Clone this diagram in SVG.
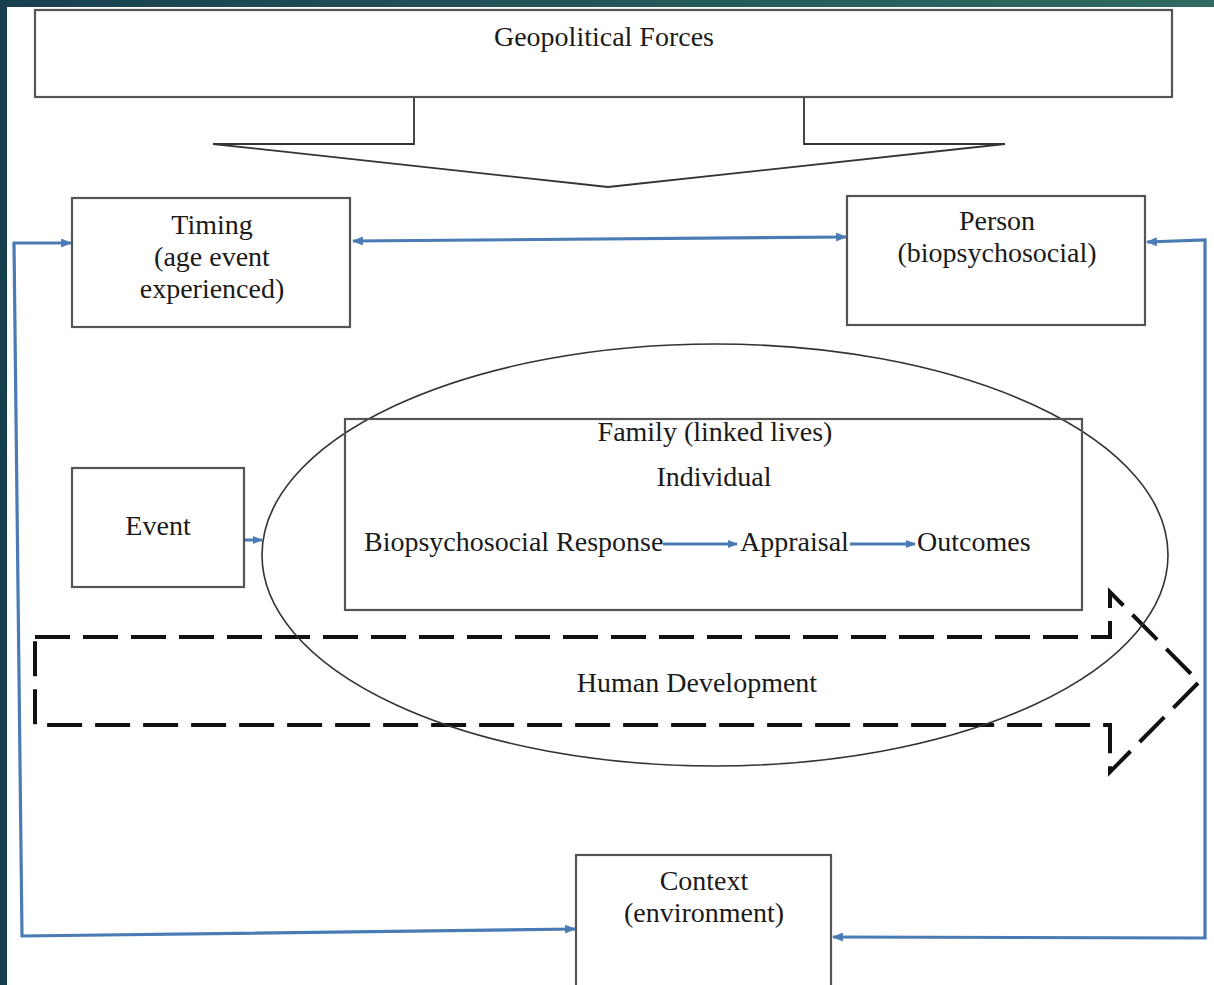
<svg xmlns="http://www.w3.org/2000/svg" width="1214" height="985" viewBox="0 0 1214 985">
  <defs>
    <linearGradient id="band" x1="0" y1="0" x2="1" y2="0">
      <stop offset="0" stop-color="#17404f"/>
      <stop offset="1" stop-color="#2f6c62"/>
    </linearGradient>
    <marker id="head" viewBox="0 0 12 10" refX="11" refY="5" markerWidth="12" markerHeight="9" markerUnits="userSpaceOnUse" orient="auto-start-reverse">
      <path d="M0,0 L12,5 L0,10 z" fill="#4a7bb5"/>
    </marker>
    <marker id="headSmall" viewBox="0 0 10 8" refX="9" refY="4" markerWidth="10" markerHeight="8" markerUnits="userSpaceOnUse" orient="auto">
      <path d="M0,0 L10,4 L0,8 z" fill="#4a7bb5"/>
    </marker>
    <style>
      .box { fill: #ffffff; stroke: #555555; stroke-width: 2.2; }
      .lbl { font-family: "Liberation Serif", "Times New Roman", serif; font-size: 28px; fill: #1a1a1a; }
      .mid { text-anchor: middle; }
      .link { fill: none; stroke: #4a7bb5; stroke-width: 3.2; stroke-linejoin: miter; }
      .inner { fill: none; stroke: #4a7bb5; stroke-width: 3; }
      .dash { fill: none; stroke: #111111; stroke-width: 4; stroke-dasharray: 35 13; }
    </style>
  </defs>

  <!-- page and frame band -->
  <rect x="0" y="0" width="1214" height="985" fill="#ffffff"/>
  <rect x="0" y="0" width="1214" height="7" fill="url(#band)"/>
  <rect x="0" y="0" width="7" height="985" fill="#17404f"/>

  <!-- human development (dashed block arrow) -->
  <g id="human-development">
    <path class="dash" d="M35,637 L1110,637 L1110,592 L1199,682 L1110,772 L1110,725 L35,725 Z"/>
    <text class="lbl mid" x="697" y="692">Human Development</text>
  </g>

  <!-- geopolitical forces with downward block arrow -->
  <g id="geopolitical-forces">
    <path d="M414,97 L414,144 L213,144 L608,187 L1005,144 L804,144 L804,97" fill="#ffffff" stroke="#333333" stroke-width="1.8" stroke-linejoin="miter"/>
    <rect class="box" x="35" y="10" width="1137" height="87"/>
    <text class="lbl mid" x="604" y="46">Geopolitical Forces</text>
  </g>

  <g id="timing">
    <rect class="box" x="72" y="198" width="278" height="129"/>
    <text class="lbl mid" x="212" y="234">Timing</text>
    <text class="lbl mid" x="212" y="266">(age event</text>
    <text class="lbl mid" x="212" y="298">experienced)</text>
  </g>

  <g id="person">
    <rect class="box" x="847" y="196" width="298" height="129"/>
    <text class="lbl mid" x="997" y="230">Person</text>
    <text class="lbl mid" x="997" y="262">(biopsychosocial)</text>
  </g>

  <g id="event">
    <rect class="box" x="72" y="468" width="172" height="119"/>
    <text class="lbl mid" x="158" y="535">Event</text>
  </g>

  <!-- family sphere -->
  <g id="family">
    <ellipse cx="715" cy="555" rx="453" ry="211" fill="none" stroke="#333333" stroke-width="1.6"/>
    <rect x="345" y="419" width="737" height="191" fill="none" stroke="#555555" stroke-width="2.2"/>
    <text class="lbl mid" x="715" y="441">Family (linked lives)</text>
    <text class="lbl mid" x="714" y="486">Individual</text>
  </g>

  <g id="biopsychosocial-response">
    <text class="lbl" x="364" y="551">Biopsychosocial Response</text>
  </g>
  <g id="appraisal">
    <text class="lbl" x="740" y="551">Appraisal</text>
  </g>
  <g id="outcomes">
    <text class="lbl" x="917" y="551">Outcomes</text>
  </g>

  <g id="context">
    <rect class="box" x="576" y="855" width="255" height="140"/>
    <text class="lbl mid" x="704" y="890">Context</text>
    <text class="lbl mid" x="704" y="922">(environment)</text>
  </g>

  <!-- connectors -->
  <g id="connectors">
    <path class="link" d="M353,241 L846,237" marker-start="url(#head)" marker-end="url(#head)"/>
    <path class="link" d="M71,243 L14,243 L22,936 L575,929" marker-start="url(#head)" marker-end="url(#head)"/>
    <path class="link" d="M1147,242 L1205,240 L1205,938 L833,937" marker-start="url(#head)" marker-end="url(#head)"/>
    <path class="inner" d="M245,540 L262,540" marker-end="url(#headSmall)"/>
    <path class="inner" d="M663,544 L737,544" marker-end="url(#headSmall)"/>
    <path class="inner" d="M850,544 L915,544" marker-end="url(#headSmall)"/>
  </g>
</svg>
